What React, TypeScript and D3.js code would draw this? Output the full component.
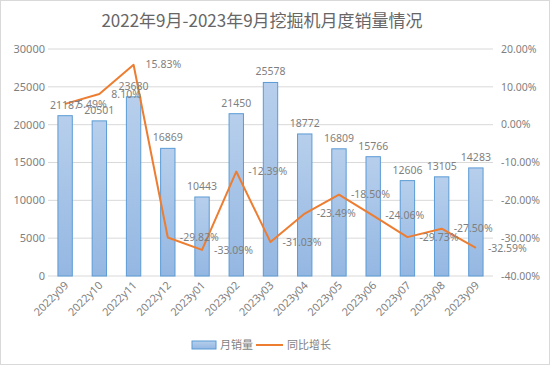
import React from 'react'
import * as d3 from 'd3'

// monthly excavator sales + YoY growth
const months = ['2022y09', '2022y10', '2022y11', '2022y12', '2023y01', '2023y02', '2023y03', '2023y04', '2023y05', '2023y06', '2023y07', '2023y08', '2023y09']
const sales = [21187, 20501, 23680, 16869, 10443, 21450, 25578, 18772, 16809, 15766, 12606, 13105, 14283]
const growth = [5.49, 8.10, 15.83, -29.82, -33.09, -12.39, -31.03, -23.49, -18.50, -24.06, -29.73, -27.50, -32.59]
const leftTicks = [0, 5000, 10000, 15000, 20000, 25000, 30000]
const rightTicks = [-40, -30, -20, -10, 0, 10, 20]

const W = 550
const H = 365
const margin = { top: 49, right: 57, bottom: 89, left: 48 }
const numFont = '"Noto Sans", sans-serif'
const cjkFont = '"Noto Sans CJK SC", sans-serif'

export default function App() {
  const x = d3.scaleBand().domain(months).range([margin.left, W - margin.right]).paddingInner(0.58).paddingOuter(0.29)
  const y = d3.scaleLinear().domain([0, 30000]).range([H - margin.bottom, margin.top])
  const y2 = d3.scaleLinear().domain([-40, 20]).range([H - margin.bottom, margin.top])
  const cx = (m: string) => (x(m) ?? 0) + x.bandwidth() / 2

  const line = d3.line<number>()
    .x((_, i) => cx(months[i]))
    .y(d => y2(d))

  return (
    <div style={{ position: 'fixed', left: 0, top: 0 }}>
      <svg width={W} height={H} style={{ display: 'block', background: '#fff' }}>
        <defs>
          <linearGradient id="barGrad" x1="0" y1="0" x2="0" y2="1">
            <stop offset="0%" stopColor="#b7cfec" />
            <stop offset="100%" stopColor="#94b7e2" />
          </linearGradient>
        </defs>
        <rect x={0.5} y={0.5} width={W - 1} height={H - 1} fill="#fff" stroke="#d9d9d9" />

        <text x={262} y={27} textAnchor="middle" fontSize={17} fill="#666" fontFamily={cjkFont}>
          2022年9月-2023年9月挖掘机月度销量情况
        </text>

        {/* grid */}
        {leftTicks.map(t => (
          <line key={t} x1={margin.left} x2={W - margin.right} y1={y(t)} y2={y(t)} stroke="#d9d9d9" />
        ))}

        {/* left axis */}
        {leftTicks.map(t => (
          <text key={t} x={45} y={y(t)} dy="0.35em" textAnchor="end" fontSize={11} fill="#7f7f7f" fontFamily={numFont}>{t}</text>
        ))}
        {/* right axis */}
        {rightTicks.map(t => (
          <text key={t} x={501} y={y2(t)} dy="0.35em" textAnchor="start" fontSize={10.5} fill="#7f7f7f" fontFamily={numFont}>{t.toFixed(2)}%</text>
        ))}

        {/* bars */}
        {sales.map((v, i) => (
          <rect key={months[i]} x={x(months[i])} y={y(v)} width={x.bandwidth()} height={y(0) - y(v)}
            fill="url(#barGrad)" stroke="#5b9bd5" strokeWidth={1} />
        ))}

        {/* x labels */}
        {months.map(m => (
          <text key={m} transform={`translate(${cx(m) + 4},${y(0) + 10}) rotate(-45)`} textAnchor="end" fontSize={11}
            fill="#7f7f7f" fontFamily={numFont}>{m}</text>
        ))}

        {/* growth line */}
        <path d={line(growth) ?? ''} fill="none" stroke="#ed7d31" strokeWidth={2} strokeLinejoin="round" />

        {/* bar labels */}
        {sales.map((v, i) => (
          <text key={months[i]} x={cx(months[i])} y={y(v) - 7} textAnchor="middle" fontSize={10.5} fill="#7f7f7f" fontFamily={numFont}>{v}</text>
        ))}
        {/* line labels */}
        {growth.map((v, i) => (
          <text key={months[i]} x={cx(months[i]) + 12} y={y2(v)} dy="0.35em" textAnchor="start" fontSize={10.5} fill="#7f7f7f" fontFamily={numFont}>{v.toFixed(2)}%</text>
        ))}

        {/* legend */}
        <rect x={192} y={341} width={24} height={8} fill="url(#barGrad)" stroke="#5b9bd5" />
        <text x={220} y={345} dy="0.35em" fontSize={11} fill="#7f7f7f" fontFamily={cjkFont}>月销量</text>
        <line x1={256} x2={283} y1={345} y2={345} stroke="#ed7d31" strokeWidth={2} />
        <text x={287} y={345} dy="0.35em" fontSize={11} fill="#7f7f7f" fontFamily={cjkFont}>同比增长</text>
      </svg>
    </div>
  )
}
